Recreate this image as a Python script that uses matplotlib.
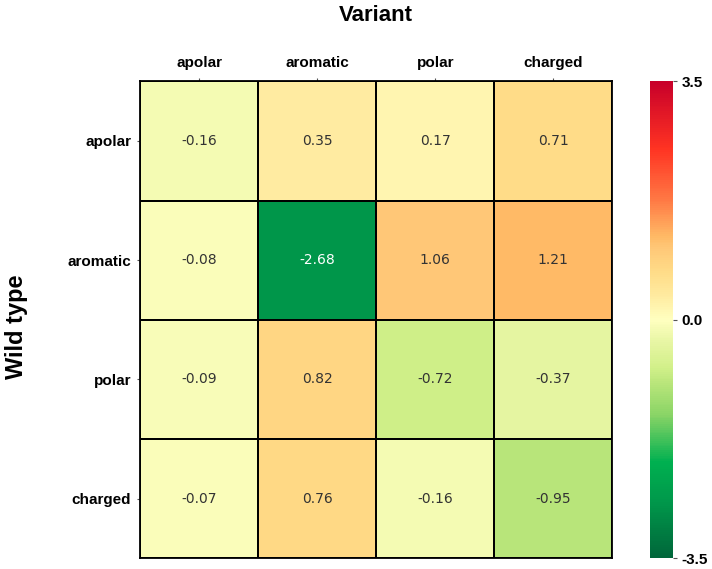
import matplotlib.pyplot as plt
import numpy as np
from matplotlib.colors import LinearSegmentedColormap

# data
variant = ["apolar", "aromatic", "polar", "charged"]
wild_type = ["apolar", "aromatic", "polar", "charged"]
values = np.array([
    [-0.16, 0.35, 0.17, 0.71],
    [-0.08, -2.68, 1.06, 1.21],
    [-0.09, 0.82, -0.72, -0.37],
    [-0.07, 0.76, -0.16, -0.95],
])
vmin, vmax = -3.5, 3.5

cmap = LinearSegmentedColormap.from_list("gyr", [
    (0.00, "#00663a"),
    (0.12, "#00994b"),
    (0.20, "#00b050"),
    (0.30, "#8ad466"),
    (0.365, "#b8e57a"),
    (0.40, "#d2f08a"),
    (0.45, "#e6f5a2"),
    (0.50, "#ffffc0"),
    (0.55, "#ffeba0"),
    (0.60, "#ffdc88"),
    (0.65, "#ffc878"),
    (0.675, "#ffba66"),
    (0.75, "#ff7a45"),
    (0.86, "#ff3322"),
    (1.00, "#c8002a"),
])

fig = plt.figure(figsize=(7.12, 5.69), dpi=100)
ax = fig.add_axes([0.197, 0.019, 0.663, 0.838])
cax = fig.add_axes([0.913, 0.019, 0.032, 0.838])

mesh = ax.pcolormesh(values, cmap=cmap, vmin=vmin, vmax=vmax,
                     edgecolors="black", linewidth=1.3)
ax.set_xlim(0, 4)
ax.set_ylim(4, 0)

for i in range(values.shape[0]):
    for j in range(values.shape[1]):
        v = values[i, j]
        col = "white" if abs(v) > 2 else "#333333"
        ax.text(j + 0.5, i + 0.5, f"{v:.2f}", ha="center", va="center",
                fontsize=10, color=col, family="DejaVu Sans")

ax.xaxis.tick_top()
ax.set_xticks(np.arange(4) + 0.5)
ax.set_xticklabels(variant, fontsize=11, fontweight="bold", family="Liberation Sans")
ax.set_yticks(np.arange(4) + 0.5)
ax.set_yticklabels(wild_type, fontsize=11, fontweight="bold", family="Liberation Sans")
ax.tick_params(axis="x", length=2.5, color="#555555", pad=6)
ax.tick_params(axis="y", length=2.5, color="#555555", pad=4)
for s in ax.spines.values():
    s.set_linewidth(1.3)

fig.text(0.528, 0.973, "Variant", ha="center", va="center", fontsize=16,
         fontweight="bold", family="Liberation Sans")
fig.text(0.023, 0.425, "Wild type", ha="center", va="center", rotation=90,
         fontsize=17, fontweight="bold", family="Liberation Sans")

cb = fig.colorbar(mesh, cax=cax, ticks=[-3.5, 0.0, 3.5])
cb.ax.set_yticklabels(["-3.5", "0.0", "3.5"], fontsize=11, fontweight="bold",
                      family="Liberation Sans")
cb.outline.set_visible(False)
cb.ax.tick_params(length=3, color="#555555")

plt.savefig("out.png")
